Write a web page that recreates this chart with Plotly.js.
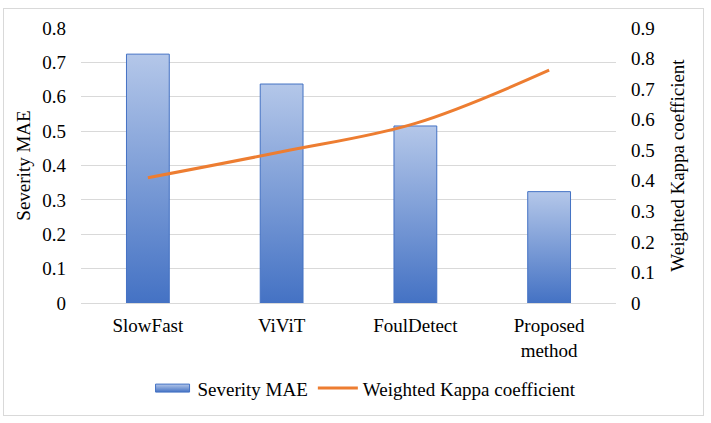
<!DOCTYPE html>
<html>
<head>
<meta charset="utf-8">
<script src="https://cdn.plot.ly/plotly-3.0.1.min.js"></script>
<style>
  body { margin: 0; background: #fff; }
  #wrap { position: relative; width: 711px; height: 423px; }
  #chart { width: 711px; height: 423px; }
  #frame { position: absolute; left: 3px; top: 8px; width: 699px; height: 406px;
           border: 1px solid #D9D9D9; pointer-events: none; }
</style>
</head>
<body>
<div id="wrap">
  <div id="chart"></div>
  <div id="frame"></div>
</div>
<script>
// values
const methods = ['SlowFast', 'ViViT', 'FoulDetect', 'Proposed<br>method'];
const severityMAE = [0.724, 0.637, 0.515, 0.324];
const weightedKappa = [0.41, 0.495, 0.588, 0.762];

const font = { family: 'Liberation Serif, serif', size: 19, color: '#000' };

const traces = [
  {
    x: methods,
    y: severityMAE,
    name: 'Severity MAE',
    type: 'bar',
    width: 0.32,
    marker: { color: '#7D9BD8', line: { color: '#4472C4', width: 1 } },
    yaxis: 'y'
  },
  {
    x: methods,
    y: weightedKappa,
    name: 'Weighted Kappa coefficient',
    type: 'scatter',
    mode: 'lines',
    line: { color: '#ED7D31', width: 3, shape: 'spline' },
    yaxis: 'y2'
  }
];

const layout = {
  width: 711,
  height: 423,
  margin: { l: 81, r: 95, t: 28, b: 120 },
  font: font,
  paper_bgcolor: '#fff',
  plot_bgcolor: '#fff',
  showlegend: true,
  legend: {
    orientation: 'h', x: 0.53, xanchor: 'center', y: -0.31, yanchor: 'middle',
    font: font, itemwidth: 40, traceorder: 'normal'
  },
  xaxis: {
    showgrid: false, showline: false, zeroline: false, ticks: '',
    ticklabelstandoff: 9, tickfont: font
  },
  yaxis: {
    range: [0, 0.8], dtick: 0.1, tickformat: '.1~f',
    gridcolor: '#D9D9D9', gridwidth: 1, zeroline: true, zerolinecolor: '#D9D9D9',
    showline: false, ticks: '', ticklabelstandoff: 14, tickfont: font,
    title: { text: 'Severity MAE', font: font, standoff: 6 }
  },
  yaxis2: {
    overlaying: 'y', side: 'right',
    range: [0, 0.9], dtick: 0.1, tickformat: '.1~f',
    showgrid: false, zeroline: false, showline: false, ticks: '',
    ticklabelstandoff: 14, tickfont: font,
    title: { text: 'Weighted Kappa coefficient', font: font, standoff: 16 }
  }
};

Plotly.newPlot('chart', traces, layout, { displayModeBar: false, staticPlot: true }).then(gd => {
  // Excel-style vertical gradient for the bars
  const svg = gd.querySelector('svg.main-svg');
  const ns = 'http://www.w3.org/2000/svg';
  let defs = svg.querySelector('defs');
  const grad = document.createElementNS(ns, 'linearGradient');
  grad.setAttribute('id', 'barGrad');
  grad.setAttribute('x1', '0'); grad.setAttribute('y1', '0');
  grad.setAttribute('x2', '0'); grad.setAttribute('y2', '1');
  [['0', '#B4C7E9'], ['1', '#4472C4']].forEach(([o, c]) => {
    const s = document.createElementNS(ns, 'stop');
    s.setAttribute('offset', o);
    s.setAttribute('stop-color', c);
    grad.appendChild(s);
  });
  defs.appendChild(grad);
  gd.querySelectorAll('.bars .point path').forEach(p => { p.style.fill = 'url(#barGrad)'; });
  // wider, flatter legend swatch like the Excel one
  gd.querySelectorAll('.legend .legendpoints path').forEach(p => {
    if (p.closest('.legendbar') || /M6,6H-6V-6H6Z/.test(p.getAttribute('d') || '')) {
      p.setAttribute('d', 'M17,4H-17V-4H17Z');
      p.style.fill = 'url(#barGrad)';
    }
  });
});
</script>
</body>
</html>
